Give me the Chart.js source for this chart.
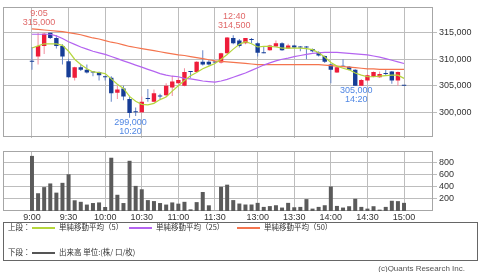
<!DOCTYPE html>
<html lang="ja">
<head>
<meta charset="utf-8">
<script src="https://cdn.jsdelivr.net/npm/chart.js@4.4.1/dist/chart.umd.min.js"></script>
<style>
  body { margin: 0; width: 480px; height: 272px; overflow: hidden; background: #fff; position: relative; }
  canvas { position: absolute; left: 0; }
  #priceChart { top: 0; }
  #volumeChart { top: 140px; }
  .legend-box { position: absolute; left: 3px; top: 222px; width: 475px; height: 39px; border: 1px solid #666; box-sizing: border-box; }
  .lg { position: absolute; font-family: "Noto Sans CJK JP", sans-serif; font-size: 7.5px; line-height: 10px; color: #333; white-space: nowrap; }
  .sw { position: absolute; width: 23px; height: 2px; }
  .credit { position: absolute; right: 15px; top: 264px; font: 8px "Liberation Sans", sans-serif; line-height: 10px; color: #555; }
</style>
</head>
<body>
<canvas id="priceChart" width="480" height="145"></canvas>
<canvas id="volumeChart" width="480" height="82"></canvas>

<div class="legend-box"></div>
<span class="lg" style="left:8px;top:222px">上段：</span>
<span class="sw" style="left:32px;top:227px;background:#b5d63c"></span>
<span class="lg" style="left:59px;top:222px">単純移動平均（5）</span>
<span class="sw" style="left:129px;top:227px;background:#b464f0"></span>
<span class="lg" style="left:156px;top:222px">単純移動平均（25）</span>
<span class="sw" style="left:237px;top:227px;background:#f4744e"></span>
<span class="lg" style="left:264px;top:222px">単純移動平均（50）</span>
<span class="lg" style="left:8px;top:247px">下段：</span>
<span class="sw" style="left:32px;top:252px;background:#555"></span>
<span class="lg" style="left:59px;top:247px">出来高 単位:(株/ 口/枚)</span>
<div class="credit">(c)Quants Research Inc.</div>

<script>
// 5分足のデータ (9:00-11:30, 12:30-15:00)
const times = [
  '9:00','9:05','9:10','9:15','9:20','9:25','9:30','9:35','9:40','9:45',
  '9:50','9:55','10:00','10:05','10:10','10:15','10:20','10:25','10:30','10:35',
  '10:40','10:45','10:50','10:55','11:00','11:05','11:10','11:15','11:20','11:25',
  '11:30','12:30','12:35','12:40','12:45','12:50','12:55','13:00','13:05','13:10',
  '13:15','13:20','13:25','13:30','13:35','13:40','13:45','13:50','13:55','14:00',
  '14:05','14:10','14:15','14:20','14:25','14:30','14:35','14:40','14:45','14:50',
  '14:55','15:00'
]
const opens = [
  309700,310500,312500,315000,314000,312500,309600,306500,308500,308000,
  307600,307600,306700,306500,303700,304500,302500,300200,300000,302600,
  302000,303100,303200,304700,305500,305000,307700,307600,309500,309500,
  309500,309400,311100,314000,313500,313000,313700,313000,311200,311700,
  312400,313000,312000,312600,312300,312300,311900,311300,310600,309000,
  307500,308700,308600,308000,305000,306000,306700,306600,307400,307700,
  306000,305000
]
const highs = [
  312300,315000,315000,315000,314500,312800,310100,308600,309000,309000,
  307800,307700,306900,306800,305000,305000,303000,300900,303000,304400,
  304300,303500,305500,306900,306500,308300,307800,309600,311700,309800,
  309500,311200,314200,314500,313800,314000,314000,313200,312300,312700,
  313500,313200,312900,312700,312500,312500,312000,311500,310700,309100,
  308600,310000,308700,308100,306300,307200,307700,307700,308000,307800,
  307700,305000
]
const lows = [
  308000,309000,311000,313800,312000,309000,306500,306000,307800,307300,
  306800,306000,306000,302000,302500,302300,299000,299300,299900,302000,
  301900,302500,302900,303100,305400,304900,306500,307500,308800,308800,
  309400,309200,311000,312800,312200,312800,313000,310500,311100,311600,
  312300,311600,311900,312000,311500,310000,311300,310500,309300,305500,
  307400,308500,307900,305000,305000,305600,306600,306500,307000,305400,
  305000,305000
]
const closes = [
  309500,312500,314800,314000,312500,310500,306600,308500,308000,307500,
  307500,307000,306600,303600,304300,303000,299900,300000,302000,302500,
  303600,303000,305000,305800,306100,307600,307600,309500,309000,309000,
  309400,311100,314100,313000,312500,314000,313600,311200,311100,312600,
  313000,311700,312600,312200,312200,312200,311500,310700,309500,308000,
  308500,308600,308000,305000,306100,307000,307600,307200,307200,306000,
  307600,305000
]
const volumes = [
  900,290,390,450,300,460,600,175,150,105,
  130,140,65,870,265,130,820,410,355,178,
  162,130,105,140,120,150,27,145,310,93,
  0,395,430,178,122,106,106,133,67,80,
  94,56,133,61,67,194,39,67,94,400,
  83,56,78,200,67,39,78,22,67,167,
  161,133
]
const ma5 = [
  312100,312500,312900,312900,312900,312600,311500,310000,309000,308200,
  307600,307500,307300,306300,305300,304500,303000,302100,301500,301400,
  301700,302400,302900,304000,305000,306000,306900,307500,308200,308700,
  309200,310000,310900,311900,312800,313300,312900,312300,312400,312400,
  312300,312100,312100,312100,312100,312000,311800,311200,310400,309400,
  308700,308300,308000,307400,307000,306700,306700,306800,306900,307000,
  307000,306400
]
const ma25 = [
  314700,314700,314700,314700,314400,313900,313300,312800,312300,311900,
  311500,311200,310900,310500,310100,309700,309300,308900,308500,308100,
  307700,307300,307000,306800,306700,306400,306300,306100,305900,305800,
  305700,305900,306200,306600,307000,307400,307900,308400,308900,309300,
  309700,310000,310200,310500,310700,310900,311100,311200,311300,311300,
  311300,311200,311100,311000,310900,310800,310600,310400,310100,309800,
  309500,309200
]
const ma50 = [
  315700,315600,315500,315400,315300,315200,315000,314800,314600,314300,
  314000,313800,313500,313200,313000,312700,312400,312200,312000,311800,
  311600,311400,311200,311000,310800,310700,310500,310300,310100,309900,
  309700,309600,309500,309400,309300,309200,309100,309000,309000,309000,
  309000,309000,309000,309000,309000,309000,309000,309000,308900,308800,
  308700,308600,308500,308400,308300,308200,308200,308100,308100,308100,
  308100,308100
]
const tickLabels = ['9:00','9:30','10:00','10:30','11:00','11:30','13:00','13:30','14:00','14:30','15:00']
const priceTicks = [300000, 305000, 310000, 315000]
const volumeTicks = [200, 400, 600, 800]
// 高値・安値の注記
const noteTimes = ['9:05', '12:40', '10:20', '14:20']
const notePrices = [315000, 314500, 299000, 305000]
const noteSides = ['high', 'high', 'low', 'low']

const RED = '#ee1c3a'
const BLUE = '#163d96'
const GRID = '#bdbdbd'
const FONT = { family: 'Liberation Sans', size: 9 }

const tickPos = tickLabels.map(t => times.indexOf(t))
const fmt = v => v.toLocaleString('en-US')
const isUp = i => closes[i] > opens[i]

const xAxis = (showLabels) => ({
    type: 'linear',
    min: -4.75,
    max: 65.75,
    offset: false,
    afterBuildTicks: s => { s.ticks = tickPos.map(v => ({ value: v })) },
    afterFit: s => { s.height = showLabels ? 11 : 0 },
    grid: { color: GRID, drawTicks: false, offset: false },
    border: { display: false },
    ticks: {
        display: showLabels, autoSkip: false, maxRotation: 0, padding: 1,
        color: '#333', font: FONT,
        callback: v => times[v]
    }
})

const yAxis = (min, max, values) => ({
    position: 'right',
    min, max,
    afterBuildTicks: s => { s.ticks = values.map(v => ({ value: v })) },
    afterFit: s => { s.width = 47 },
    grid: { color: GRID, tickLength: 4 },
    border: { display: false },
    ticks: { padding: 2, color: '#333', font: FONT, callback: v => fmt(v) }
})

const framePlugin = {
    id: 'frame',
    beforeDatasetsDraw(chart) {
        const { ctx, chartArea: a } = chart
        ctx.save()
        ctx.strokeStyle = '#a6a6a6'
        ctx.lineWidth = 1
        ctx.strokeRect(Math.round(a.left) + 0.5, Math.round(a.top) + 0.5,
            Math.round(a.right - a.left) - 1, Math.round(a.bottom - a.top) - 1)
        ctx.restore()
    }
}

const notePlugin = {
    id: 'notes',
    afterDatasetsDraw(chart) {
        const { ctx, scales: { x, y } } = chart
        ctx.save()
        ctx.font = '9px "Liberation Sans"'
        ctx.textAlign = 'center'
        ctx.textBaseline = 'middle'
        noteTimes.forEach((t, k) => {
            const px = x.getPixelForValue(times.indexOf(t)) + 1
            const py = y.getPixelForValue(notePrices[k])
            if (noteSides[k] === 'high') {
                ctx.fillStyle = '#e06868'
                ctx.fillText(t, px, py - 19)
                ctx.fillText(fmt(notePrices[k]), px, py - 10)
            } else {
                ctx.fillStyle = '#5087e4'
                ctx.fillText(fmt(notePrices[k]), px, py + 5)
                ctx.fillText(t, px, py + 14)
            }
        })
        ctx.restore()
    }
}

const maLine = (data, color) => ({
    type: 'line',
    data: data.map((v, i) => ({ x: i, y: v })),
    borderColor: color,
    borderWidth: 1.2,
    pointRadius: 0,
    tension: 0,
    order: 0
})

// 上段: ローソク足 + 移動平均
new Chart(document.getElementById('priceChart'), {
    type: 'bar',
    data: {
        datasets: [
            maLine(ma5, '#b5d63c'),
            maLine(ma25, '#b464f0'),
            maLine(ma50, '#f4744e'),
            {
                data: times.map((t, i) => ({ x: i, y: [opens[i], closes[i]] })),
                backgroundColor: times.map((t, i) => isUp(i) ? RED : BLUE),
                maxBarThickness: 5,
                minBarLength: 1,
                grouped: false,
                order: 1
            },
            {
                data: times.map((t, i) => ({ x: i, y: [lows[i], highs[i]] })),
                backgroundColor: times.map((t, i) => isUp(i) ? '#f28c9c' : '#6585c8'),
                maxBarThickness: 1,
                grouped: false,
                order: 2
            }
        ]
    },
    options: {
        responsive: false,
        animation: false,
        layout: { padding: { left: 3, right: 0, top: 0, bottom: 2 } },
        plugins: { legend: { display: false }, tooltip: { enabled: false } },
        scales: {
            x: xAxis(false),
            y: yAxis(295250, 319750, priceTicks)
        }
    },
    plugins: [framePlugin, notePlugin]
})

// 下段: 出来高
new Chart(document.getElementById('volumeChart'), {
    type: 'bar',
    data: {
        datasets: [{
            data: volumes.map((v, i) => ({ x: i, y: v })),
            backgroundColor: '#5a5a5a',
            maxBarThickness: 4,
            grouped: false
        }]
    },
    options: {
        responsive: false,
        animation: false,
        layout: { padding: { left: 3, right: 0, top: 11, bottom: 0 } },
        plugins: { legend: { display: false }, tooltip: { enabled: false } },
        scales: {
            x: xAxis(true),
            y: yAxis(0, 980, volumeTicks)
        }
    },
    plugins: [framePlugin]
})
</script>
</body>
</html>
